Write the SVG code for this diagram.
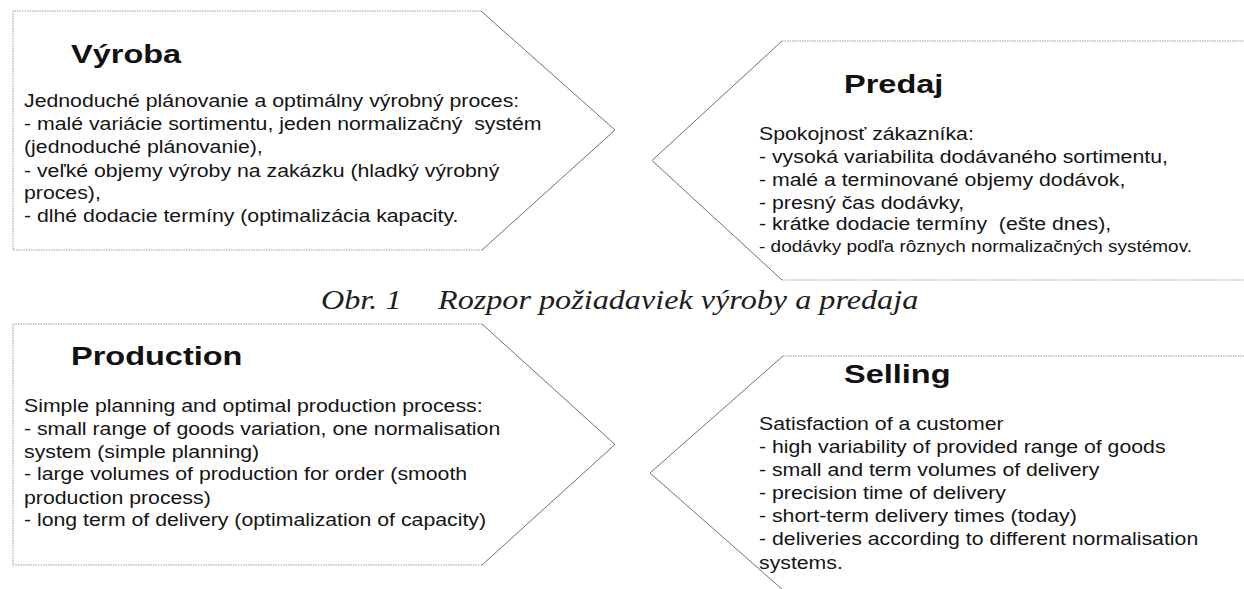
<svg xmlns="http://www.w3.org/2000/svg" width="1244" height="589" viewBox="0 0 1244 589">
  <style>
    .shape { fill: #ffffff; stroke: none; }
    .edge { fill: none; stroke: #9a9a9a; stroke-width: 1; stroke-dasharray: 1.5 1; }
    .slant { fill: none; stroke: #707070; stroke-width: 1; }
    .title { font-family: "Liberation Sans", Arial, sans-serif; font-weight: bold; font-size: 26px; fill: #111111; }
    .body { font-family: "Liberation Sans", Arial, sans-serif; font-size: 18.5px; fill: #141414; }
    .small { font-size: 16.5px; }
    .caption { font-family: "Liberation Serif", "Times New Roman", serif; font-style: italic; font-size: 28px; fill: #1e1e1e; }
  </style>
  <rect width="1244" height="589" fill="#ffffff"/>

  <!-- Production side (Slovak) -->
  <g id="node-vyroba">
    <polygon class="shape" points="13,11 481,11 615,130 482,250 13,250"/>
    <polyline class="edge" points="481,11 13,11 13,250 482,250"/>
    <polyline class="slant" points="481,11 615,130 482,250"/>
    <g transform="translate(71,63) scale(1.25,1)">
      <text class="title" x="0" y="0">Výroba</text>
    </g>
    <g transform="translate(24,2) scale(1.15,1)">
      <text class="body" xml:space="preserve">
        <tspan x="0" y="105">Jednoduché plánovanie a optimálny výrobný proces:</tspan>
        <tspan x="0" y="128">- malé variácie sortimentu, jeden normalizačný  systém</tspan>
        <tspan x="0" y="151.5">(jednoduché plánovanie),</tspan>
        <tspan x="0" y="175">- veľké objemy výroby na zakázku (hladký výrobný</tspan>
        <tspan x="0" y="197.5">proces),</tspan>
        <tspan x="0" y="220">- dlhé dodacie termíny (optimalizácia kapacity.</tspan>
      </text>
    </g>
  </g>

  <!-- Selling side (Slovak) -->
  <g id="node-predaj">
    <polygon class="shape" points="1250,41 782,41 652,160.5 782,280 1250,280"/>
    <polyline class="edge" points="782,41 1250,41"/>
    <polyline class="edge" points="782,280 1250,280"/>
    <polyline class="slant" points="782,41 652,160.5 782,280"/>
    <g transform="translate(844,93) scale(1.25,1)">
      <text class="title" x="0" y="0">Predaj</text>
    </g>
    <g transform="translate(759,2) scale(1.15,1)">
      <text class="body" xml:space="preserve">
        <tspan x="0" y="138">Spokojnosť zákazníka:</tspan>
        <tspan x="0" y="161">- vysoká variabilita dodávaného sortimentu,</tspan>
        <tspan x="0" y="184">- malé a terminované objemy dodávok,</tspan>
        <tspan x="0" y="207">- presný čas dodávky,</tspan>
        <tspan x="0" y="228">- krátke dodacie termíny  (ešte dnes),</tspan>
        <tspan x="0" y="250" class="small">- dodávky podľa rôznych normalizačných systémov.</tspan>
      </text>
    </g>
  </g>

  <!-- Figure caption -->
  <g id="caption">
    <g transform="translate(321,309) scale(1.15,1)">
      <text class="caption" x="0" y="0">Obr. 1</text>
    </g>
    <g transform="translate(438,309) scale(1.15,1)">
      <text class="caption" x="0" y="0">Rozpor požiadaviek výroby a predaja</text>
    </g>
  </g>

  <!-- Production side (English) -->
  <g id="node-production">
    <polygon class="shape" points="13,324 482,324 615,444.5 482,565 13,565"/>
    <polyline class="edge" points="482,324 13,324 13,565 482,565"/>
    <polyline class="slant" points="482,324 615,444.5 482,565"/>
    <g transform="translate(71,365) scale(1.25,1)">
      <text class="title" x="0" y="0">Production</text>
    </g>
    <g transform="translate(24,2) scale(1.15,1)">
      <text class="body">
        <tspan x="0" y="410">Simple planning and optimal production process:</tspan>
        <tspan x="0" y="433">- small range of goods variation, one normalisation</tspan>
        <tspan x="0" y="456">system (simple planning)</tspan>
        <tspan x="0" y="478">- large volumes of production for order (smooth</tspan>
        <tspan x="0" y="502">production process)</tspan>
        <tspan x="0" y="524">- long term of delivery (optimalization of capacity)</tspan>
      </text>
    </g>
  </g>

  <!-- Selling side (English) -->
  <g id="node-selling">
    <polygon class="shape" points="1250,356 783,356 650,473 783,590 1250,590"/>
    <polyline class="edge" points="783,356 1250,356"/>
    <polyline class="slant" points="783,356 650,473 783,590"/>
    <g transform="translate(844,383) scale(1.25,1)">
      <text class="title" x="0" y="0">Selling</text>
    </g>
    <g transform="translate(759,2) scale(1.15,1)">
      <text class="body">
        <tspan x="0" y="428">Satisfaction of a customer</tspan>
        <tspan x="0" y="451">- high variability of provided range of goods</tspan>
        <tspan x="0" y="474">- small and term volumes of delivery</tspan>
        <tspan x="0" y="497">- precision time of delivery</tspan>
        <tspan x="0" y="520">- short-term delivery times (today)</tspan>
        <tspan x="0" y="543">- deliveries according to different normalisation</tspan>
        <tspan x="0" y="567">systems.</tspan>
      </text>
    </g>
  </g>
</svg>
